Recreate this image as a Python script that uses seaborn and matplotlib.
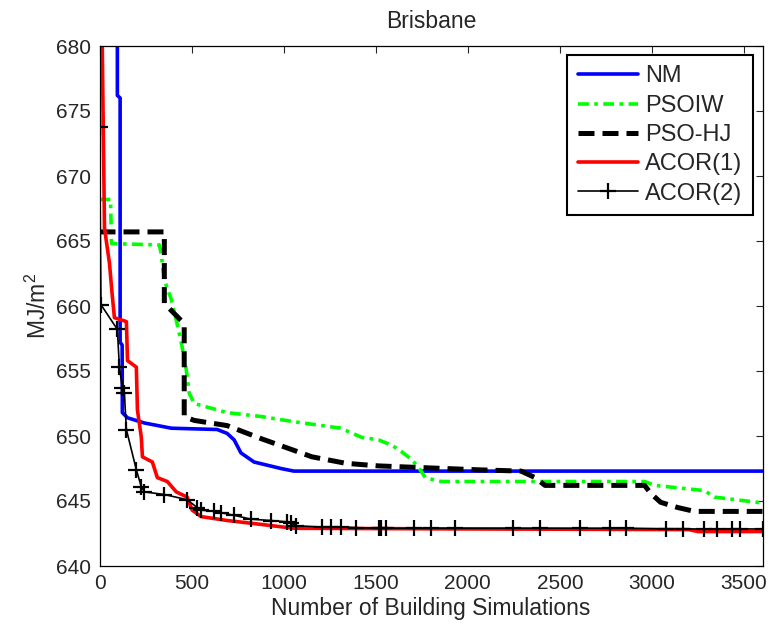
import matplotlib
matplotlib.use("Agg")
import matplotlib.pyplot as plt
import seaborn as sns
import pandas as pd

# ---- data ----
nm_x = [97, 97, 112, 112, 123, 124, 152, 244, 390, 639, 693, 731, 768, 839, 985, 1055, 3600]
nm_y = [690, 676.2, 676.0, 657.2, 657.0, 651.8, 651.4, 651.0, 650.6, 650.5, 650.2, 649.7, 648.7, 648.0, 647.5, 647.3, 647.3]

psoiw_x = [0, 60, 65, 325, 335, 352, 390, 417, 444, 471, 487, 514, 693, 877, 1055, 1310, 1423, 1515,
           1586, 1640, 1694, 1732, 1769, 1824, 1856, 2960, 3014, 3285, 3339, 3571, 3600]
psoiw_y = [668.2, 668.2, 664.8, 664.7, 664.0, 662.0, 660.5, 658.9, 657.2, 655.1, 653.3, 652.5, 651.8, 651.5,
           651.1, 650.6, 649.9, 649.7, 649.3, 648.8, 648.2, 647.6, 646.8, 646.6, 646.5, 646.5, 646.2, 645.8,
           645.3, 644.9, 644.8]

psohj_x = [0, 352, 352, 449, 460, 460, 514, 693, 877, 1055, 1153, 1337, 1515, 1694, 2056, 2289, 2365, 2419,
           2960, 2992, 3047, 3139, 3231, 3600]
psohj_y = [665.7, 665.7, 660.2, 658.8, 658.5, 651.5, 651.2, 650.8, 649.8, 648.9, 648.4, 647.9, 647.7, 647.6,
           647.4, 647.3, 646.8, 646.2, 646.2, 645.6, 644.9, 644.5, 644.2, 644.2]

acor1_x = [0, 15, 27, 54, 70, 81, 146, 152, 200, 206, 227, 233, 287, 314, 368, 417, 476, 503, 552, 693, 877,
           1055, 2000, 3200, 3250, 3600]
acor1_y = [700, 680, 666, 663.3, 660.7, 659.1, 658.8, 655.8, 655.3, 652.0, 649.9, 648.4, 648.0, 646.8, 646.5,
           645.7, 645.3, 644.3, 643.8, 643.5, 643.2, 642.9, 642.85, 642.8, 642.65, 642.65]

acor2_x = [0, 8, 97, 108, 124, 135, 146, 200, 227, 244, 352, 476, 530, 552, 622, 660, 731, 823, 931, 1017,
           1040, 1066, 1207, 1255, 1310, 1391, 1515, 1530, 1553, 1705, 1802, 1932, 2246, 2392, 2608, 2771,
           2857, 3074, 3166, 3285, 3355, 3436, 3479, 3600]
acor2_y = [673.8, 660.1, 658.2, 655.3, 653.7, 653.3, 650.5, 647.4, 646.1, 645.7, 645.5, 645.1, 644.5, 644.3,
           644.2, 644.1, 643.9, 643.6, 643.5, 643.4, 643.3, 643.1, 643.0, 643.0, 643.0, 642.95, 642.9, 642.9,
           642.9, 642.9, 642.9, 642.9, 642.9, 642.9, 642.9, 642.9, 642.9, 642.85, 642.85, 642.85, 642.85,
           642.85, 642.85, 642.85]

labels = ["NM", "PSOIW", "PSO-HJ", "ACOR(1)", "ACOR(2)"]
xticks = [0, 500, 1000, 1500, 2000, 2500, 3000, 3500]
yticks = [640, 645, 650, 655, 660, 665, 670, 675, 680]

sns.set_style("white")
plt.rcParams["font.family"] = ["Liberation Sans", "DejaVu Sans"]
plt.rcParams["mathtext.fontset"] = "custom"
plt.rcParams["mathtext.rm"] = "Liberation Sans"
plt.rcParams["mathtext.it"] = "Liberation Sans"

fig = plt.figure(figsize=(7.71, 6.35), dpi=100)
ax = fig.add_axes([99.5 / 771, 1 - 566 / 635, 663 / 771, 520 / 635])

series = [
    (nm_x, nm_y, dict(color=(0, 0, 1), lw=2.6)),
    (psoiw_x, psoiw_y, dict(color=(0, 1, 0), lw=2.6, dashes=(3.0, 1.5, 1.0, 1.5))),
    (psohj_x, psohj_y, dict(color="black", lw=3.6, dashes=(3.2, 1.6))),
    (acor1_x, acor1_y, dict(color=(1, 0, 0), lw=2.6)),
    (acor2_x, acor2_y, dict(color="black", lw=1.2, marker="+", markersize=11,
                            markeredgewidth=1.6, markeredgecolor="black")),
]
for (xs, ys, kw), lab in zip(series, labels):
    df = pd.DataFrame({"x": xs, "y": ys})
    dashes = kw.pop("dashes", None)
    line_ax = sns.lineplot(data=df, x="x", y="y", ax=ax, estimator=None, sort=False,
                           label=lab, **kw)
    if dashes is not None:
        line_ax.lines[-1].set_dashes(dashes)

ax.set_xlim(0, 3600)
ax.set_ylim(640, 680)
ax.set_xticks(xticks)
ax.set_yticks(yticks)
ax.tick_params(direction="in", top=True, right=True, length=5, width=0.8, labelsize=15, pad=6)
for s in ax.spines.values():
    s.set_visible(True)
    s.set_color("black")
    s.set_linewidth(0.9)

ax.set_xlabel("Number of Building Simulations", fontsize=16.5, labelpad=3)
ax.set_ylabel("MJ/m$^2$", fontsize=16.5, labelpad=4)
ax.set_title("Brisbane", fontsize=16.5, pad=13)

leg = ax.legend(loc="upper right", bbox_to_anchor=(0.986, 0.983), borderaxespad=0,
                fontsize=17, frameon=True, fancybox=False, handlelength=2.55,
                labelspacing=0.31, borderpad=0.45, handletextpad=0.3)
leg.get_frame().set_edgecolor("black")
leg.get_frame().set_linewidth(1.5)
leg.get_frame().set_alpha(1)

fig.savefig("out.png", dpi=100)
